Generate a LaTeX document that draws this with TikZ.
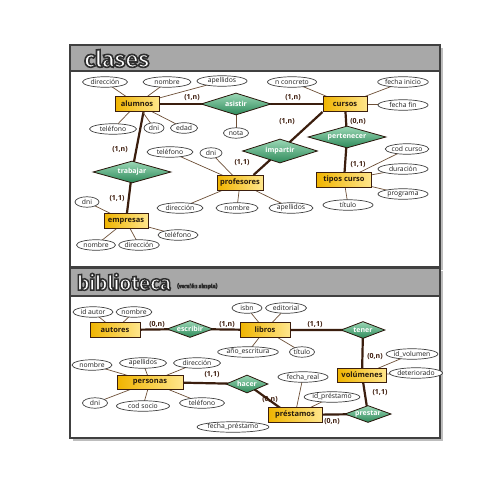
\documentclass[tikz,border=0pt]{standalone}
\usepackage{fontspec}
\setmainfont{Open Sans}
\newfontfamily\titlefont{Fira Sans}
\usetikzlibrary{shapes.geometric}
\pgfdeclarelayer{bg}\pgfdeclarelayer{lines}
\pgfsetlayers{bg,lines,main}
\definecolor{framec}{HTML}{404040}
\definecolor{headc}{HTML}{A8A8A8}
\definecolor{shadc}{HTML}{BDBDBD}
\definecolor{relc}{HTML}{3B1E0E}
\definecolor{attc}{HTML}{6E5038}
\definecolor{cardc}{HTML}{3A1808}
\definecolor{entl}{HTML}{F0B400}
\definecolor{entr}{HTML}{FFE68C}
\definecolor{diat}{HTML}{9BD8B6}
\definecolor{diab}{HTML}{2E8A5A}
\newcommand\outlinedtext[2]{{\color{white}\special{pdf:literal direct 2 Tr #2 w 0.18 0.18 0.18 RG}#1\special{pdf:literal direct 0 Tr}}}
\tikzset{
  ent/.style={draw=relc, line width=1pt, left color=entl, right color=entr, minimum width=#1, minimum height=15pt, inner sep=1pt, font=\bfseries\fontsize{7.5}{8}\selectfont, text=black!80!brown},
  ent/.default=44pt,
  rel/.style={diamond, draw=relc!70!black, line width=0.8pt, top color=diat, bottom color=diab, inner sep=0pt, aspect=3.3, minimum width=#1, minimum height=22pt, font=\bfseries\fontsize{7}{8}\selectfont, text=white},
  rel/.default=70pt,
  smallrel/.style={minimum height=17pt},
  att/.style={ellipse, draw=black!75, line width=0.7pt, fill=white, inner sep=0pt, minimum height=10.5pt, minimum width=#1, font=\fontsize{6.8}{7}\selectfont, text=black!88},
  att/.default=40pt,
  card/.style={font=\bfseries\fontsize{7}{8}\selectfont, text=cardc, inner sep=0pt},
  relline/.style={line width=2.2pt, draw=relc},
  attline/.style={line width=0.7pt, draw=attc},
  title/.style={anchor=base west, inner sep=0pt, font=\titlefont\bfseries\fontsize{23}{24}\selectfont}
}
\begin{document}
\begin{tikzpicture}[x=1pt,y=-1pt]
\useasboundingbox (0,0) rectangle (495,495);
% ---------- panels
\begin{pgfonlayer}{bg}
  \fill[white] (0,0) rectangle (495,495);
  \fill[shadc] (73,48) rectangle (443,270);
  \draw[framec, line width=1.6pt, fill=white] (70,45) rectangle (440,267);
  \draw[framec, line width=1.6pt, fill=headc] (70,45) rectangle (440,71);
  \fill[shadc] (73,271) rectangle (443,441);
  \draw[framec, line width=1.6pt, fill=white] (70,268) rectangle (440,438);
  \draw[framec, line width=1.6pt, fill=headc] (70,268) rectangle (440,296);
\end{pgfonlayer}
\node[title] (t1) at (84,67) {\outlinedtext{clases}{1.6}};
\node[title, font=\titlefont\bfseries\fontsize{20.5}{22}\selectfont] (t2) at (77,290) {\outlinedtext{biblioteca}{1.5}};
\node[anchor=base west, inner sep=0pt, font=\titlefont\bfseries\fontsize{5.5}{6}\selectfont] (t2b) at (177,288) {\outlinedtext{(versión simple)}{0.5}};

% ---------- clases
\node[ent] (alumnos) at (137,104) {alumnos};
\node[rel] (asistir) at (236,104) {asistir};
\node[ent] (cursos) at (345,104) {cursos};
\node[rel=78pt] (trabajar) at (132,172) {trabajar};
\node[rel=75pt, minimum height=24pt] (impartir) at (280,151) {impartir};
\node[rel=78pt] (pertenecer) at (347,137) {pertenecer};
\node[ent=46pt] (profesores) at (240,183) {profesores};
\node[ent] (empresas) at (126,221) {empresas};
\node[ent=55pt] (tipos) at (344,180) {tipos curso};

\node[att=45pt] (adir) at (105,82) {dirección};
\node[att=48pt] (anom) at (167,82) {nombre};
\node[att=50pt] (aape) at (222,81) {apellidos};
\node[att=47pt] (atel) at (113,129) {teléfono};
\node[att=20pt] (adni) at (154,128) {dni};
\node[att=27pt] (aedad) at (184,128) {edad};
\node[att=25pt] (nota) at (236,133) {nota};
\node[att=49pt] (cnc) at (292,82) {n concreto};
\node[att=49pt] (cfi) at (403,82) {fecha inicio};
\node[att=50pt] (cff) at (403,105) {fecha fin};
\node[att=46pt] (ptel) at (170,152) {teléfono};
\node[att=22pt] (pdni) at (211,153) {dni};
\node[att=46pt] (pdir) at (180,208) {dirección};
\node[att=42pt] (pnom) at (237,208) {nombre};
\node[att=44pt] (pape) at (291,208) {apellidos};
\node[att=24pt] (edni) at (87,202) {dni};
\node[att=40pt] (etel) at (178,235) {teléfono};
\node[att=39pt] (enom) at (96,245) {nombre};
\node[att=38pt] (edir) at (139,245) {dirección};
\node[att=42pt] (tcod) at (407,149) {cod curso};
\node[att=50pt] (tdur) at (403,169) {duración};
\node[att=50pt] (tprog) at (403,194) {programa};
\node[att=50pt] (ttit) at (348,205) {título};

\node[card] (k1) at (192,98) {(1,n)};
\node[card] (k2) at (293,98) {(1,n)};
\node[card] (k3) at (120,150) {(1,n)};
\node[card] (k4) at (117,199) {(1,1)};
\node[card] (k5) at (287,122) {(1,n)};
\node[card] (k6) at (242,163) {(1,1)};
\node[card] (k7) at (358,122) {(0,n)};
\node[card] (k8) at (358,165) {(1,1)};

\begin{pgfonlayer}{lines}
  \draw[relline] (alumnos.center) -- (asistir.center) -- (cursos.center);
  \draw[relline] ([xshift=8pt]alumnos.center) -- (trabajar.center) -- (empresas.center);
  \draw[relline] (cursos.south west) -- (impartir.center) -- ([xshift=-10pt]profesores.north east);
  \draw[relline] (cursos.center) -- (pertenecer.center) -- (tipos.center);
  \foreach \a in {adir,anom,aape,atel,adni,aedad} \draw[attline] (\a.center) -- (alumnos.center);
  \draw[attline] (nota.center) -- (asistir.center);
  \foreach \a in {cnc,cfi,cff} \draw[attline] (\a.center) -- (cursos.center);
  \foreach \a in {ptel,pdni,pdir,pnom,pape} \draw[attline] (\a.center) -- (profesores.center);
  \foreach \a in {edni,etel,enom,edir} \draw[attline] (\a.center) -- (empresas.center);
  \foreach \a in {tcod,tdur,tprog,ttit} \draw[attline] (\a.center) -- (tipos.center);
\end{pgfonlayer}

% ---------- biblioteca
\node[ent=50pt] (autores) at (115,330) {autores};
\node[rel=46pt, smallrel] (escribir) at (190,329) {escribir};
\node[ent=50pt] (libros) at (265,330) {libros};
\node[rel=44pt, smallrel] (tener) at (363,330) {tener};
\node[ent=49pt, minimum height=14pt] (volumenes) at (362,375) {volúmenes};
\node[rel=46pt, smallrel] (prestar) at (368,414) {prestar};
\node[ent=54pt] (prestamos) at (295,415) {préstamos};
\node[rel=42pt, minimum height=18pt] (hacer) at (247,384) {hacer};
\node[ent=66pt, minimum height=14pt] (personas) at (150,382) {personas};

\node[att=40pt] (bida) at (93,312) {id autor};
\node[att=28pt] (banom) at (134,312) {nombre};
\node[att=30pt] (bisbn) at (247,308) {isbn};
\node[att=41pt] (bedit) at (286,308) {editorial};
\node[att=53pt] (banio) at (248,352) {año\_escritura};
\node[att=25pt] (btit) at (302,352) {título};
\node[att=43pt] (bidv) at (412,354) {id\_volumen};
\node[att=50pt] (bdet) at (416,373) {deteriorado};
\node[att=50pt] (bfreal) at (303,377) {fecha\_real};
\node[att=55pt] (bidp) at (332,397) {id\_préstamo};
\node[att=57pt] (bfp) at (233,427) {fecha\_préstamo};
\node[att=40pt] (bpnom) at (92,365) {nombre};
\node[att=47pt] (bpape) at (143,363) {apellidos};
\node[att=47pt] (bpdir) at (197,363) {dirección};
\node[att=25pt] (bpdni) at (95,403) {dni};
\node[att=53pt] (bpcod) at (143,406) {cod socio};
\node[att=45pt] (bptel) at (202,403) {teléfono};

\node[card] (m1) at (157,325) {(0,n)};
\node[card] (m2) at (227,325) {(1,n)};
\node[card] (m3) at (315,325) {(1,1)};
\node[card] (m4) at (375,357) {(0,n)};
\node[card] (m5) at (380,393) {(1,1)};
\node[card] (m6) at (332,422) {(0,n)};
\node[card] (m7) at (270,400) {(0,n)};
\node[card] (m8) at (212,375) {(1,1)};

\begin{pgfonlayer}{lines}
  \draw[relline] (autores.center) -- (escribir.center) -- (libros.center) -- (tener.center) -- (volumenes.center);
  \draw[relline] (volumenes.center) -- (prestar.center) -- (prestamos.center);
  \draw[relline] (personas.center) -- (hacer.center) -- ([xshift=-5pt]prestamos.center);
  \foreach \a in {bida,banom} \draw[attline] (\a.center) -- (autores.center);
  \foreach \a in {bisbn,bedit,banio,btit} \draw[attline] (\a.center) -- (libros.center);
  \foreach \a in {bidv,bdet} \draw[attline] (\a.center) -- (volumenes.center);
  \foreach \a in {bfreal,bidp} \draw[attline] (\a.center) -- (prestamos.center);
  \foreach \a in {bpnom,bpape,bpdir,bpdni,bpcod,bptel} \draw[attline] (\a.center) -- (personas.center);
\end{pgfonlayer}
\end{tikzpicture}
\end{document}
